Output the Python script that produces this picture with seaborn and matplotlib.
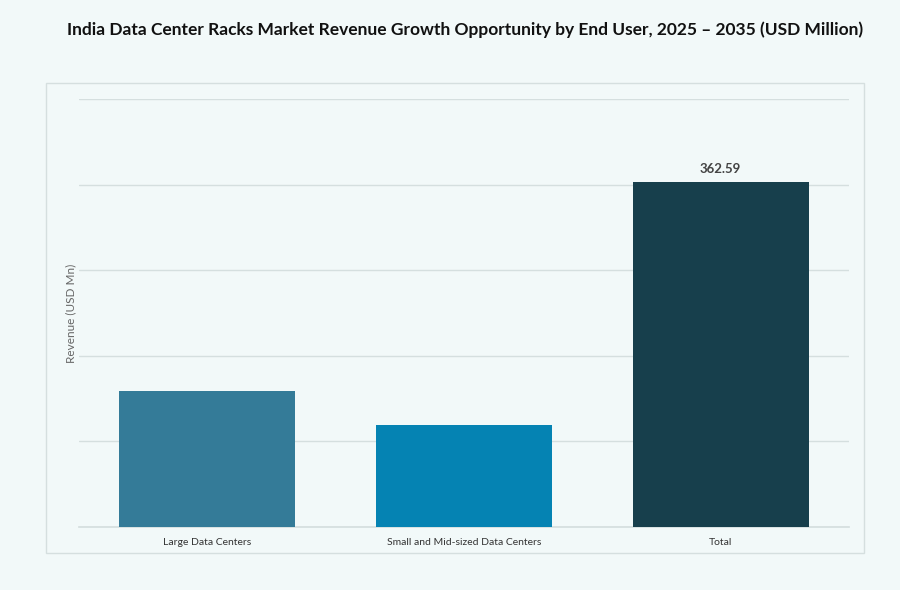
import seaborn as sns
import matplotlib.pyplot as plt
import pandas as pd
from matplotlib.patches import Rectangle

# data
segments = ["Large Data Centers", "Small and Mid-sized Data Centers", "Total"]
revenue = [143.3, 107.6, 362.59]
bar_colors = ["#347b98", "#0583b3", "#173f4c"]
y_ticks = [0, 90, 180, 270, 360, 450]

df = pd.DataFrame({"segment": segments, "revenue": revenue})

bg = "#f2f9f9"
sns.set_theme(style="white")
plt.rcParams['font.family'] = ['Lato', 'DejaVu Sans']

fig = plt.figure(figsize=(9, 5.9), dpi=100, facecolor=bg)

# outer panel box
fig.patches.append(Rectangle((46 / 900, 1 - 553 / 590), (864 - 46) / 900, (553 - 83) / 590,
                             transform=fig.transFigure, facecolor=bg, edgecolor="#d5dfdf",
                             linewidth=1.0, zorder=-1))

ax = fig.add_axes([79 / 900, 1 - 527 / 590, (849 - 79) / 900, (527 - 99) / 590])
ax.set_zorder(2)
ax.set_facecolor(bg)

sns.barplot(data=df, x="segment", y="revenue", hue="segment", palette=bar_colors,
            width=0.686, legend=False, ax=ax, zorder=3, saturation=1, linewidth=0)

ax.set_xlim(-0.5, 2.5)
ax.set_ylim(0, 450)
ax.set_yticks(y_ticks)
ax.yaxis.grid(True, color="#d5dfdf", linewidth=1.0, zorder=0)
ax.set_axisbelow(True)
ax.tick_params(axis="y", left=False, labelleft=False)
ax.tick_params(axis="x", bottom=False, labelsize=7.5, labelcolor="#333333", pad=2)
for s in ["top", "right", "left"]:
    ax.spines[s].set_visible(False)
ax.spines["bottom"].set_color("#d5dfdf")
ax.set_xlabel("")
ax.set_ylabel("Revenue (USD Mn)", fontsize=8.5, color="#666666", labelpad=2)

# value label only on the total bar
ax.text(2, revenue[2] + 7, f"{revenue[2]:.2f}", ha="center", va="bottom",
        fontsize=9.5, fontweight="bold", color="#444444")

fig.text(465 / 900, 1 - 30 / 590,
         "India Data Center Racks Market Revenue Growth Opportunity by End User, 2025 \u2013 2035 (USD Million)",
         ha="center", va="center", fontsize=12.5, fontweight="bold", color="#111111")

fig.savefig("out.png", dpi=100, facecolor=bg)
